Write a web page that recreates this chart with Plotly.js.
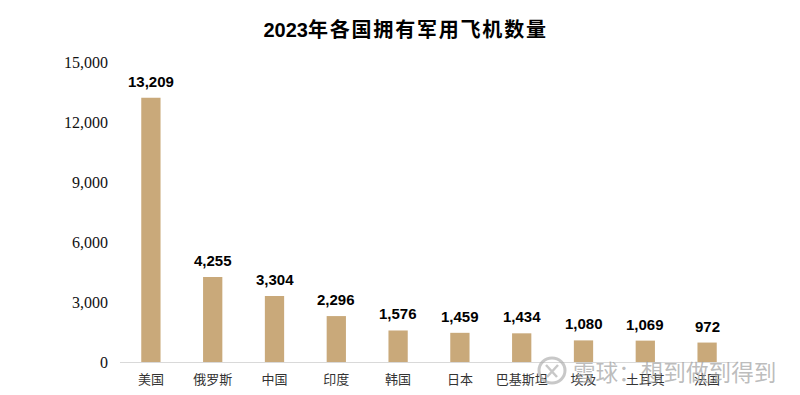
<!DOCTYPE html>
<html><head><meta charset="utf-8">
<script src="https://cdn.plot.ly/plotly-3.0.1.min.js"></script>
<style>html,body{margin:0;padding:0;background:#fff}</style></head>
<body><div id="c" style="width:800px;height:395px"></div>
<script>
const categories=["美国","俄罗斯","中国","印度","韩国","日本","巴基斯坦","埃及","土耳其","法国"];
const values=[13209,4255,3304,2296,1576,1459,1434,1080,1069,972];
const valueLabels=["13,209","4,255","3,304","2,296","1,576","1,459","1,434","1,080","1,069","972"];
const yTickVals=[0,3000,6000,9000,12000,15000];
const yTickText=["0","3,000","6,000","9,000","12,000","15,000"];
const titleYear="2023";
const titleRest="年各国拥有军用飞机数量";
const watermark="雪球：想到做到得到";
const cjk='"Noto Sans CJK SC",sans-serif';
const latinCjk='"Liberation Sans","Noto Sans CJK SC",sans-serif';
const L=120,R=62,T=62,B=33,W=800,H=395;
const px=x=>(x-L)/(W-L-R), py=y=>(H-B-y)/(H-T-B);
const valueNotes=categories.map((c,i)=>({x:c,y:values[i],xref:'x',yref:'y',text:'<b>'+valueLabels[i]+'</b>',showarrow:false,xanchor:'center',yanchor:'bottom',yshift:6,font:{family:latinCjk,size:15,color:'#000'}}));
Plotly.newPlot('c',[{type:'bar',x:categories,y:values,cliponaxis:false,
 marker:{color:'#C9A97A'},width:0.312,hoverinfo:'x+y'}],
{width:W,height:H,margin:{l:L,r:R,t:T,b:B},paper_bgcolor:'#fff',plot_bgcolor:'#fff',showlegend:false,
 title:{text:'<b>'+titleYear+'<span style="letter-spacing:1.8px">'+titleRest+'</span></b>',x:0.507,xanchor:'center',y:0.925,yanchor:'middle',font:{family:latinCjk,size:20,color:'#000'}},
 xaxis:{type:'category',tickfont:{family:cjk,size:13,color:'#333'},showline:true,linecolor:'#d9d9d9',linewidth:1,ticks:'',showgrid:false,fixedrange:true,tickangle:0,ticklabelstandoff:5},
 yaxis:{range:[0,15000],tickvals:yTickVals,ticktext:yTickText,tickfont:{family:'"Liberation Serif",serif',size:16,color:'#111'},showgrid:false,zeroline:false,showline:false,ticks:'',fixedrange:true,ticklabelstandoff:11},
 annotations:valueNotes.concat([{xref:'paper',yref:'paper',x:px(674),y:py(371),xanchor:'center',yanchor:'middle',showarrow:false,text:watermark,font:{family:cjk,size:22.6,color:'rgba(160,160,160,0.7)'}}]),
 shapes:[
  {type:'circle',xref:'paper',yref:'paper',x0:px(539),x1:px(565),y0:py(383),y1:py(358),line:{color:'rgba(170,170,170,0.65)',width:3}},
  {type:'path',xref:'paper',yref:'paper',path:`M ${px(546)} ${py(365)} L ${px(557)} ${py(377)} M ${px(558)} ${py(365)} L ${px(547)} ${py(377)}`,line:{color:'rgba(170,170,170,0.65)',width:2.5}}
 ]
},{displayModeBar:false,responsive:false});
</script></body></html>
